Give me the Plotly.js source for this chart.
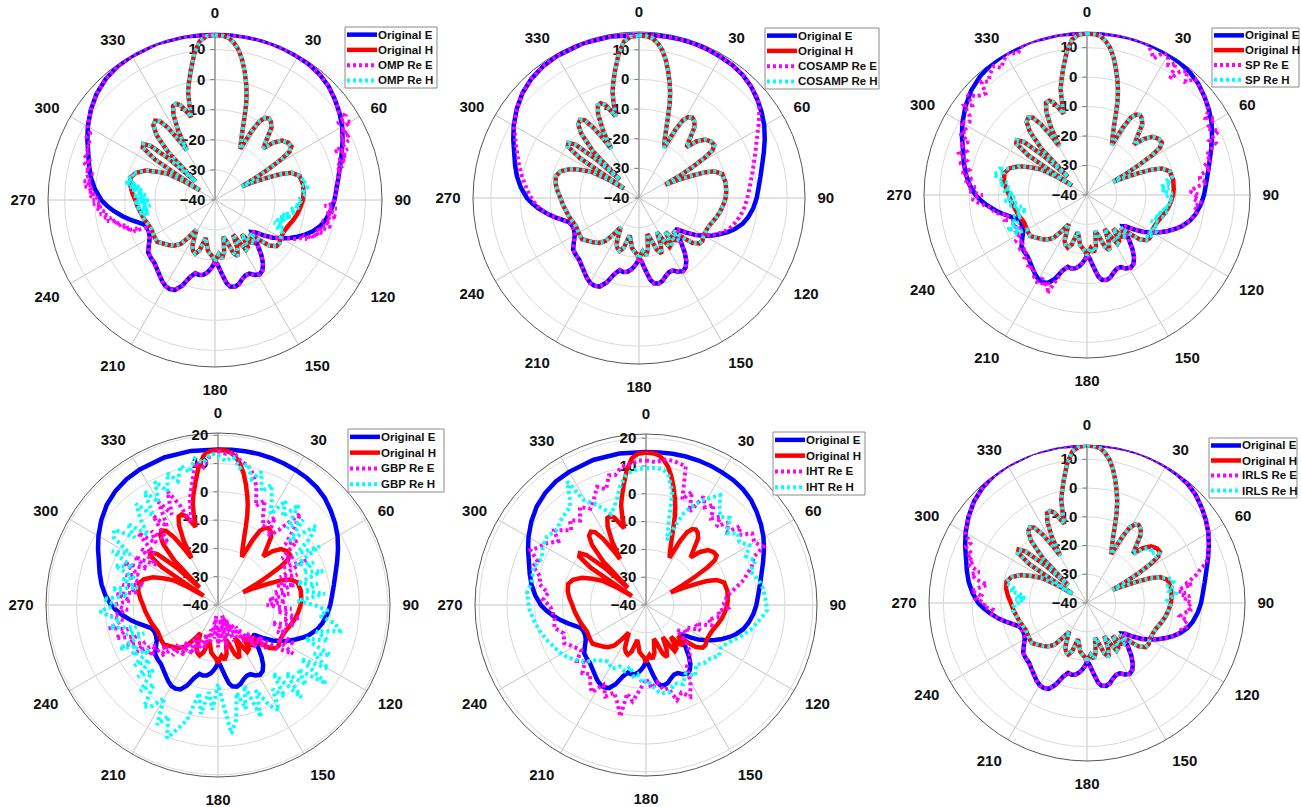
<!DOCTYPE html>
<html><head><meta charset="utf-8">
<script src="https://cdn.plot.ly/plotly-3.0.1.min.js"></script>
<style>html,body{margin:0;padding:0;background:#fff}</style>
</head><body><div id="chart" style="width:1301px;height:807px"></div>
<script>
// ---------- Original patterns (degrees, dB) ----------
const thetaE = [0,5,10,15,20,25,30,35,40,45,50,55,60,65,70,75,80,85,90,95,100,104,108,111,114,117,120,123,126,129,131,134,137,140,143,146,149,152,155,158,161,164,167,170,172,174,176,178,180,182,184,186,189,192,195,198,201,204,207,210,213,216,220,224,228,232,236,240,244,248,251,254,257,260,264,267,270,275,280,285,290,295,300,306,312,318,324,330,340,350,360];
const rE = [15.0,15.1,15.2,15.3,15.3,15.2,15.0,14.8,14.3,13.4,12.0,10.5,8.8,6.8,4.8,3.0,1.6,0.5,-0.3,-1.3,-2.6,-4.0,-6.0,-7.9,-10.0,-12.2,-14.6,-17.0,-20.0,-23.0,-23.8,-21.5,-19.0,-16.0,-13.5,-11.8,-11.2,-11.8,-13.0,-13.0,-12.2,-11.0,-10.4,-10.8,-12.0,-14.5,-16.8,-18.8,-19.5,-18.0,-16.8,-15.8,-14.8,-14.5,-14.8,-13.0,-9.5,-7.3,-6.8,-7.0,-7.8,-8.8,-10.0,-11.0,-11.3,-11.8,-13.5,-15.0,-15.6,-15.6,-15.0,-13.2,-11.0,-8.8,-6.0,-4.0,-2.2,0.0,1.8,3.3,4.8,6.8,8.8,11.0,12.9,14.2,15.0,15.3,15.5,15.3,15.0];

const thetaH = [0,3,5,7,9,11,13,15,16.5,18,19.5,21.5,24,26.5,28,29.5,31.5,33.5,35.5,38,40.5,43,45.5,48.5,52,55,57,58.5,60,61.5,63,65,67,68.5,70.5,74,80,86,90,95,100,105,110,115,120,124,127,130,132,134,137,140,142,145,148,150,152.5,155,158,161,164,167,170,173,176,178,180,182,185,188,191,194,197,200,203,206,209,212,215,218,222,226,230,234,238,242,246,250,255,260,265,270,275,280,285,289,293,296,299,301,302.5,304,306,308,310,312,313.5,315.5,318,320.5,323,325,327,329,330.5,332,334,336,338,340,342,344,345,346,347.5,349.5,352,354.5,357,360];
const rH = [14.8,14.6,14.0,12.5,10.4,7.4,3.8,0.0,-3.0,-6.5,-10.5,-15.0,-18.8,-21.0,-14.0,-9.8,-8.0,-7.5,-8.0,-9.5,-13.5,-16.5,-12.8,-10.2,-9.1,-9.0,-10.5,-14.0,-19.5,-25.0,-30.0,-26.0,-21.0,-16.5,-13.0,-10.8,-10.3,-10.5,-10.8,-11.5,-12.3,-13.3,-14.3,-14.8,-14.8,-14.2,-14.5,-16.5,-20.0,-24.0,-20.5,-21.5,-25.5,-21.0,-20.5,-23.5,-27.0,-22.5,-19.8,-21.5,-25.5,-27.5,-22.5,-20.5,-22.0,-21.0,-19.5,-21.0,-22.0,-23.0,-25.5,-27.0,-22.5,-21.0,-21.5,-22.7,-26.0,-28.3,-25.0,-21.5,-19.6,-18.5,-17.5,-16.3,-16.4,-16.6,-16.7,-16.3,-15.6,-15.0,-14.2,-13.5,-12.4,-11.4,-11.0,-12.2,-15.0,-18.5,-22.0,-28.0,-34.0,-16.0,-10.3,-9.8,-12.0,-20.0,-31.0,-18.0,-11.0,-7.8,-7.0,-8.0,-11.5,-17.0,-21.0,-14.0,-8.5,-5.8,-5.5,-6.5,-9.0,-11.3,-7.0,-3.0,0.0,4.0,9.2,13.0,14.5,14.8];

// ---------- OMP reconstruction (deviating samples) ----------
const ompEt = [55,57,58,59,60,61,62,63,64,65,66,67,68,69,70,71,72,73,74,75,76,77,78,80,
  92,93,94,95,96,97,98,99,100,101,102,103,104,105,106,107,108,109,110,111,112,113,114,116,118,
  248,249,250,251,252,253,254,255,256,257,258,259,260,261,262,263,264,265,266,267,268,269,270,271,272,273,274,275,276,277,278,279,280,282,283,284,286,287,289,291,292,294,296,298];
const ompEr = [10.5,11.5,8.0,10.8,12.0,7.5,9.5,7.0,10.0,6.0,8.5,6.5,3.0,7.2,4.5,6.5,3.2,5.5,2.5,4.0,2.0,3.2,1.5,1.6,
  -1.0,-3.5,0.5,-2.0,-0.5,-3.0,1.0,-1.8,-0.8,-3.8,-1.5,-0.5,-3.5,-2.0,-5.0,-2.8,-4.5,-3.5,-6.0,-5.0,-8.5,-6.8,-8.8,-10.5,-13.0,
  -15.6,-11.0,-12.5,-9.0,-10.5,-8.0,-9.5,-7.0,-8.0,-5.5,-6.8,-3.5,-5.0,-2.8,-4.0,-1.5,-3.0,-2.0,-0.5,-2.5,0.5,-1.5,0.5,-1.0,1.8,0.0,2.5,0.5,3.5,1.2,4.0,2.0,3.5,1.5,4.5,2.5,5.5,3.0,6.0,4.5,6.5,5.2,7.5,7.0];
const ompHt = [76,78,80,82,84,86,88,90,92,94,95,97,99,100,102,103,105,106,108,109,111,112,114,116,
  258,259,260,261,262,263,264,265,266,267,268,269,270,271,272,273,274,275,276,277,278,279,280,281,282,284,286,288,290];
const ompHr = [-10.5,-9.0,-10.8,-8.8,-10.5,-9.5,-11.0,-12.5,-11.0,-13.5,-11.6,-15.0,-12.8,-14.7,-17.0,-14.0,-18.0,-15.5,-18.5,-16.0,-19.0,-15.5,-17.5,-15.0,
  -15.3,-17.5,-14.0,-18.0,-15.5,-17.0,-13.5,-18.5,-14.5,-17.5,-13.0,-16.5,-18.0,-14.0,-16.5,-12.5,-17.0,-14.0,-16.0,-12.0,-15.5,-11.0,-14.5,-9.5,-12.5,-10.0,-12.0,-11.0,-13.0];

// ---------- COSAMP reconstruction ----------
const cosEt = [50,53,56,59,62,65,68,71,74,77,80,83,86,89,92,95,98,101,104,107,110,113,116,118,
  262,265,268,271,274,277,280,283,286,289,292,295,298,300];
const cosEr = [12.3,10.8,8.9,7.0,5.2,3.7,2.4,1.2,0.2,-0.7,-1.5,-2.2,-2.8,-3.3,-3.8,-4.3,-4.9,-5.6,-6.4,-7.2,-8.3,-10.0,-11.8,-13.4,
  -7.5,-5.8,-4.5,-3.3,-2.2,-1.2,0.0,1.0,2.2,3.3,4.6,6.0,7.5,8.8];
const cosHt = [];
const cosHr = [];

// ---------- SP reconstruction ----------
const spEt = [22,24,26,28,30,32,34,35.5,37,39,41,43,46,
  55,57,59,61,63,64,66,68,70,72,74,76,78,80,82,84,86,88,90,92,94,96,98,100,
  198,200,202,204,206,208,210,213,216,219,222,225,228,231,234,237,240,242,244,247,250,253,256,259,262,
  266,268,270,272,274,276,278,280,282,284,286,288,290,292,294,296,298,300,302,304,306,308,310,312,315,317,319,321.5,324,326,328.3,331,334,337,340];
const spEr = [15.0,13.5,11.5,14.5,15.0,12.0,14.0,8.6,12.5,14.0,11.0,13.8,13.0,
  10.5,8.0,10.5,6.5,8.5,9.8,5.5,7.0,4.5,2.5,4.0,1.0,3.0,-1.0,-1.3,1.0,-3.0,-5.0,-2.0,-4.0,-1.0,-3.5,-2.0,-2.7,
  -13.0,-9.0,-4.0,-7.8,-5.5,-8.0,-6.0,-7.0,-9.5,-8.0,-11.0,-10.0,-12.5,-10.5,-13.5,-11.0,-14.0,-12.0,-15.0,-12.5,-14.0,-11.0,-12.5,-8.0,-7.5,
  -3.0,-1.0,-4.5,0.5,-2.0,1.5,-0.5,3.0,1.0,4.5,2.5,5.5,3.5,6.5,4.0,8.0,6.0,9.5,7.0,8.0,11.5,9.5,12.9,10.0,8.7,12.5,11.0,12.7,14.0,12.0,13.8,15.0,13.5,15.5,15.3];
const spHt = [78,80,82,83.5,85,87,89,91,93,95,98,100,102,104,106,108,110,112,114,116,118,120,122,124,126,
  240,242,244,246.4,248,250,252,254,256,258,260,262,264,266,268,270,271,273,275,277,279,281,283,285,287,289,292];
const spHr = [-10.5,-13.0,-11.0,-15.0,-12.0,-14.5,-11.0,-13.0,-10.5,-12.5,-11.5,-14.0,-12.0,-15.5,-13.0,-16.2,-14.0,-16.5,-13.5,-15.5,-13.0,-16.0,-13.5,-15.5,-14.0,
  -16.5,-12.0,-14.5,-10.4,-15.0,-12.5,-17.0,-14.0,-19.0,-15.0,-17.5,-13.5,-16.0,-12.0,-15.5,-13.0,-15.2,-11.5,-14.0,-10.0,-12.5,-9.0,-7.5,-10.5,-9.5,-12.5,-15.0];

// ---------- IRLS reconstruction ----------
const irlsEt = [70,72,73.6,75,77,79,80,81,82.7,84,85,86.3,88,90,92,94,96,98,100,102,104,106,
  264,266,268,270,272,274,276,278,280.4,282,284,286,288,290,291.3,293,295,297.2,299,300];
const irlsEr = [4.8,3.0,1.0,0.0,-2.5,-5.0,-3.0,-6.5,-7.9,-5.5,-7.0,-4.1,-6.0,-3.5,-5.0,-4.0,-6.0,-7.3,-4.5,-5.5,-4.5,-6.0,
  -6.0,-7.0,-4.0,-4.5,-1.5,-3.0,0.5,-2.0,-4.7,-0.5,1.5,-1.0,3.5,2.0,4.7,3.5,6.5,5.6,8.0,8.8];
const irlsHt = [44,46,48,50,51.7,54,56,58, 74,76,78,80,82,84,86,88,90,
  264,266,268,270,272,273,274.6,275.4,277,279,281,284];
const irlsHr = [-16.5,-13.0,-11.5,-11.0,-12.0,-10.0,-9.5,-14.0, -9.5,-9.0,-11.5,-9.5,-11.0,-9.0,-10.5,-12.0,-10.8,
  -14.2,-15.0,-14.5,-16.0,-17.5,-15.0,-18.5,-15.6,-17.0,-13.0,-14.5,-11.0];

// ---------- GBP reconstruction (whole pattern) ----------
const gbpT = [0,3,6,9,12,15,18,21,24,27,30,33,36,39,42,45,48,51,54,57,60,63,66,69,72,75,78,81,84,87,90,93,96,99,102,105,108,111,114,117,120,123,126,129,132,135,138,141,144,147,150,153,156,159,162,165,168,171,174,177,180,183,186,189,192,195,198,201,204,207,210,213,216,219,222,225,228,231,234,237,240,243,246,249,252,255,258,261,264,267,270,273,276,279,282,285,288,291,294,297,300,303,306,309,312,315,318,321,324,327,330,333,336,339,342,345,348,351,354,357,360];
const gbpEr = [14.5,13.5,14.0,11.5,10.5,8.0,4.0,-2.5,0.5,-5.0,-8.0,-3.0,-10.0,-6.0,3.5,-2.0,-8.0,-4.0,-12.0,-8.5,-14.0,-5.0,-16.0,-10.0,-18.0,-12.0,-20.0,-14.5,-22.0,-16.0,-22.8,-14.0,-19.0,-10.5,-16.5,-12.0,-20.0,-14.0,-17.0,-9.5,-15.9,-8.4,-14.0,-22.0,-17.0,-26.0,-20.0,-30.0,-24.0,-32.0,-27.0,-34.0,-26.0,-36.0,-28.0,-33.0,-24.0,-35.0,-27.0,-31.0,-25.0,-33.0,-28.0,-36.0,-26.0,-31.0,-24.0,-29.0,-22.0,-26.0,-20.0,-27.0,-18.0,-23.0,-16.0,-20.0,-13.0,-17.0,-10.0,-14.0,-7.0,-11.0,-5.0,-9.0,-2.0,-7.0,-0.6,-6.0,-2.0,-8.0,-3.0,-9.0,-4.0,-11.0,-5.5,-13.0,-5.8,-10.0,-3.5,-12.0,-6.0,-14.0,-6.5,-11.0,-2.0,-9.0,-4.8,-12.0,-1.0,-7.0,2.0,-4.0,3.9,-2.0,-9.5,-1.3,4.0,11.0,9.0,13.0,14.5];
const gbpHr = [13.0,11.0,12.5,9.0,11.0,6.0,9.5,3.0,6.5,2.0,-3.0,4.0,-1.2,5.5,-3.5,2.5,-6.0,4.5,0.3,-7.0,1.5,-9.0,-3.0,-7.8,-1.0,-11.0,-4.0,-9.0,-2.0,-12.0,-6.0,-1.0,-3.7,2.0,4.0,-4.0,1.0,-7.0,3.5,-2.0,5.0,-5.0,7.3,-3.7,2.0,-6.0,4.0,-9.0,0.0,-4.5,3.0,-0.2,-7.0,2.5,-10.0,-2.0,-8.3,1.0,5.7,-5.0,-12.0,-3.0,-9.0,-1.0,-8.2,2.0,6.0,10.4,3.0,7.5,-2.0,2.5,4.6,-4.0,1.0,-7.6,-2.0,-9.0,-3.5,-11.0,-5.0,-8.0,-2.0,-12.0,-6.0,-10.0,-1.0,-5.0,-1.6,1.8,-4.0,0.6,-8.0,-2.0,-11.0,-5.1,-9.0,-1.0,-7.0,2.0,-4.3,4.0,5.3,-2.0,3.0,-5.0,1.0,6.0,-1.0,7.8,2.0,9.0,4.0,9.9,6.0,11.0,8.0,12.5,10.5,13.5,13.0];

// ---------- IHT reconstruction (whole pattern) ----------
const ihtEt = [0,4,8,12,16,19,22,25,28,31,34,37,40,42,45,48,50,53,56,60,63.6,66,70,73,75.6,79,82,85,88.7,92,95,99,103,107,111,115,119,124,129,133,137,141,146.4,150,154.2,158,162,165,168.2,172,176,180,184,188,192,193,196,200,204,208,212,215.4,219,223,227,231,235,240,245,251,256,262,269,273,277,281,285,289,292,295.4,298,302,306,309,311,315,318,322,326,330,333.5,337.5,341,344,346.7,350,354,357,360];
const ihtEr = [12.0,11.5,13.0,12.5,11.9,0.1,4.0,-3.0,4.1,1.0,3.5,-1.0,1.5,-2.0,2.0,-1.0,4.1,2.0,6.0,5.0,7.2,2.4,0.5,-2.0,-3.7,-7.0,-9.5,-11.0,-12.0,-10.5,-14.0,-13.0,-17.0,-15.0,-21.0,-18.5,-23.5,-22.0,-25.7,-20.0,-17.0,-15.0,-13.4,-8.0,-3.4,-6.0,-4.0,-9.0,-8.8,-12.0,-10.0,-13.5,-9.5,-5.0,-7.5,1.2,-3.0,-6.5,-4.0,-7.5,-3.0,-5.4,-8.0,-6.5,-10.0,-8.0,-11.5,-10.0,-7.5,-8.7,-6.0,-6.8,-5.6,-3.0,-4.5,-1.0,-0.6,3.0,2.0,6.0,4.0,2.0,-1.0,2.5,1.0,-2.0,0.9,-1.5,2.5,0.0,2.2,6.0,4.0,8.5,8.0,10.5,11.0,12.0,12.0];
const ihtHt = [0,4,7.5,10,13,15,17.9,20,22.3,25,28,31,34,37,40,44,48.5,52,56,60,64,68,72,77.5,82,87,92.4,97,103.5,109,115.3,120,125,130,135.3,140,145,150,155,160,165,170.8,175,179.2,183,187,190,194.3,198,203,208,214,221.7,227,233,239,245.7,251,257,262.4,268,275.6,282,288.8,294,299,304.6,310,316,322.4,325,327.4,329.3,333,336,339,342,345,348,351,354,357,360];
const ihtHr = [9.2,9.5,9.0,7.0,2.0,-8.0,-15.4,-10.0,-4.3,-1.0,2.5,5.0,7.7,4.0,1.5,3.5,-1.1,2.0,0.5,3.0,0.0,2.5,-0.5,1.5,2.5,3.0,3.6,1.5,-1.4,-4.5,-7.8,-9.0,-8.0,-10.0,-10.5,-12.0,-9.0,-11.5,-8.5,-10.0,-7.5,-7.8,-10.5,-13.0,-12.0,-15.0,-14.0,-17.1,-15.0,-16.0,-14.0,-15.5,-13.5,-10.0,-7.5,-5.0,-3.6,-2.0,-0.5,0.8,2.0,3.0,2.0,2.7,1.0,2.5,3.3,2.0,3.5,4.6,8.0,12.7,3.9,1.0,-2.0,-5.0,-3.0,0.0,4.0,7.0,8.5,9.0,9.2];

// ---------- Texts ----------
const methods = ['OMP','COSAMP','SP','GBP','IHT','IRLS'];
const angleTicks = [0,30,60,90,120,150,180,210,240,270,300,330];
const seriesNames = ['Original E','Original H',' Re E',' Re H'];

// ---------- Helpers ----------
// Replace the original samples inside the angular windows covered by the deviating samples
function reconstruct(baseT, baseR, devT, devR){
  const wins = [];
  for (let i = 0; i < devT.length; i++){
    if (!wins.length || devT[i] - wins[wins.length-1][1] > 8) wins.push([devT[i], devT[i]]);
    else wins[wins.length-1][1] = devT[i];
  }
  const pts = [];
  baseT.forEach((t,i) => { if (!wins.some(w => t >= w[0] && t <= w[1])) pts.push([t, baseR[i]]); });
  devT.forEach((t,i) => pts.push([t, devR[i]]));
  pts.sort((a,b) => a[0]-b[0]);
  return {theta: pts.map(p=>p[0]), r: pts.map(p=>p[1])};
}

const recon = {
  OMP:   [reconstruct(thetaE,rE,ompEt,ompEr), reconstruct(thetaH,rH,ompHt,ompHr)],
  COSAMP:[reconstruct(thetaE,rE,cosEt,cosEr), reconstruct(thetaH,rH,cosHt,cosHr)],
  SP:    [reconstruct(thetaE,rE,spEt,spEr), reconstruct(thetaH,rH,spHt,spHr)],
  GBP:   [{theta:gbpT, r:gbpEr}, {theta:gbpT, r:gbpHr}],
  IHT:   [{theta:ihtEt, r:ihtEr}, {theta:ihtHt, r:ihtHr}],
  IRLS:  [reconstruct(thetaE,rE,irlsEt,irlsEr), reconstruct(thetaH,rH,irlsHt,irlsHr)]
};

// panel geometry (pixels): centre x, centre y, radius, radial max
const geo = [
  [215,200,167,15.5],[639,198,166,16],[1087,195,163,15.3],
  [218,605,172,20.8],[646,605,171,21.5],[1087,603,158,15]
];
// legend boxes (pixels): left, top, right, bottom
const legBox = [[345,27,437,88],[765,28,879,89],[1212,28,1299,87],[348,429,444,492],[773,432,865,495],[1209,438,1297,498]];
const styles = [
  {color:'#0000FF', width:4.5, dash:'solid'},
  {color:'#FF0000', width:4.5, dash:'solid'},
  {color:'#FF00FF', width:4, dash:'3px,3px'},
  {color:'#00FFFF', width:4, dash:'3px,3px'}
];
const W = 1301, H = 807;
const font = (s) => ({family:'Arial, Liberation Sans, sans-serif', size:s, color:'#111', weight:'bold'});
const px = (x) => x / W, py = (y) => 1 - y / H;

const data = [];
const shapes = [];
const annotations = [];
const layout = {width:W, height:H, margin:{l:0,r:0,t:0,b:0}, paper_bgcolor:'#fff', showlegend:false,
  shapes, annotations};

methods.forEach((m, k) => {
  const sp = k === 0 ? 'polar' : 'polar' + (k+1);
  const [cx, cy, R, rmax] = geo[k];
  layout[sp] = {
    domain: {x:[(cx-R)/W, (cx+R)/W], y:[1-(cy+R)/H, 1-(cy-R)/H]},
    bgcolor: '#fff',
    angularaxis: {rotation:90, direction:'clockwise', tickmode:'array', tickvals:angleTicks,
      ticktext: angleTicks.map(String), showline:true, linecolor:'#555', linewidth:1,
      gridcolor:'#c4c4c4', gridwidth:1, ticks:'outside', ticklen:9, tickcolor:'rgba(0,0,0,0)',
      tickfont: font(15), layer:'below traces'},
    radialaxis: {range:[-40, rmax], angle:90, tickangle:90, tickmode:'linear', tick0:-40, dtick:10,
      showline:true, linecolor:'#777', linewidth:1, gridcolor:'#dadada', ticks:'outside', ticklen:4,
      tickcolor:'#777', tickfont: font(15), side:'counterclockwise', layer:'below traces'}
  };
  const rc = recon[m];
  const series = [
    {theta:thetaE, r:rE}, {theta:thetaH, r:rH}, rc[0], rc[1]
  ];
  series.forEach((s, j) => {
    const name = j < 2 ? seriesNames[j] : m + seriesNames[j];
    data.push({type:'scatterpolar', mode:'lines', subplot:sp, name, theta:s.theta, r:s.r,
      line:styles[j], hoverinfo:'skip'});
  });
  // legend box
  const [l, t, rr, b] = legBox[k];
  shapes.push({type:'rect', xref:'paper', yref:'paper', x0:px(l), x1:px(rr), y0:py(b), y1:py(t),
    fillcolor:'#fff', line:{color:'#8a8a8a', width:1}, layer:'above'});
  const rowH = (b - t) / 4;
  series.forEach((s, j) => {
    const yy = t + rowH * (j + 0.5);
    shapes.push({type:'line', xref:'paper', yref:'paper', x0:px(l+2), x1:px(l+32), y0:py(yy), y1:py(yy),
      line:{color:styles[j].color, width:styles[j].width, dash:styles[j].dash}, layer:'above'});
    annotations.push({xref:'paper', yref:'paper', x:px(l+32), y:py(yy), xanchor:'left', yanchor:'middle',
      text: j < 2 ? seriesNames[j] : m + seriesNames[j], showarrow:false, font:font(11.5),
      borderpad:0, xshift:0});
  });
});

Plotly.newPlot('chart', data, layout, {displayModeBar:false, staticPlot:true});
</script></body></html>
